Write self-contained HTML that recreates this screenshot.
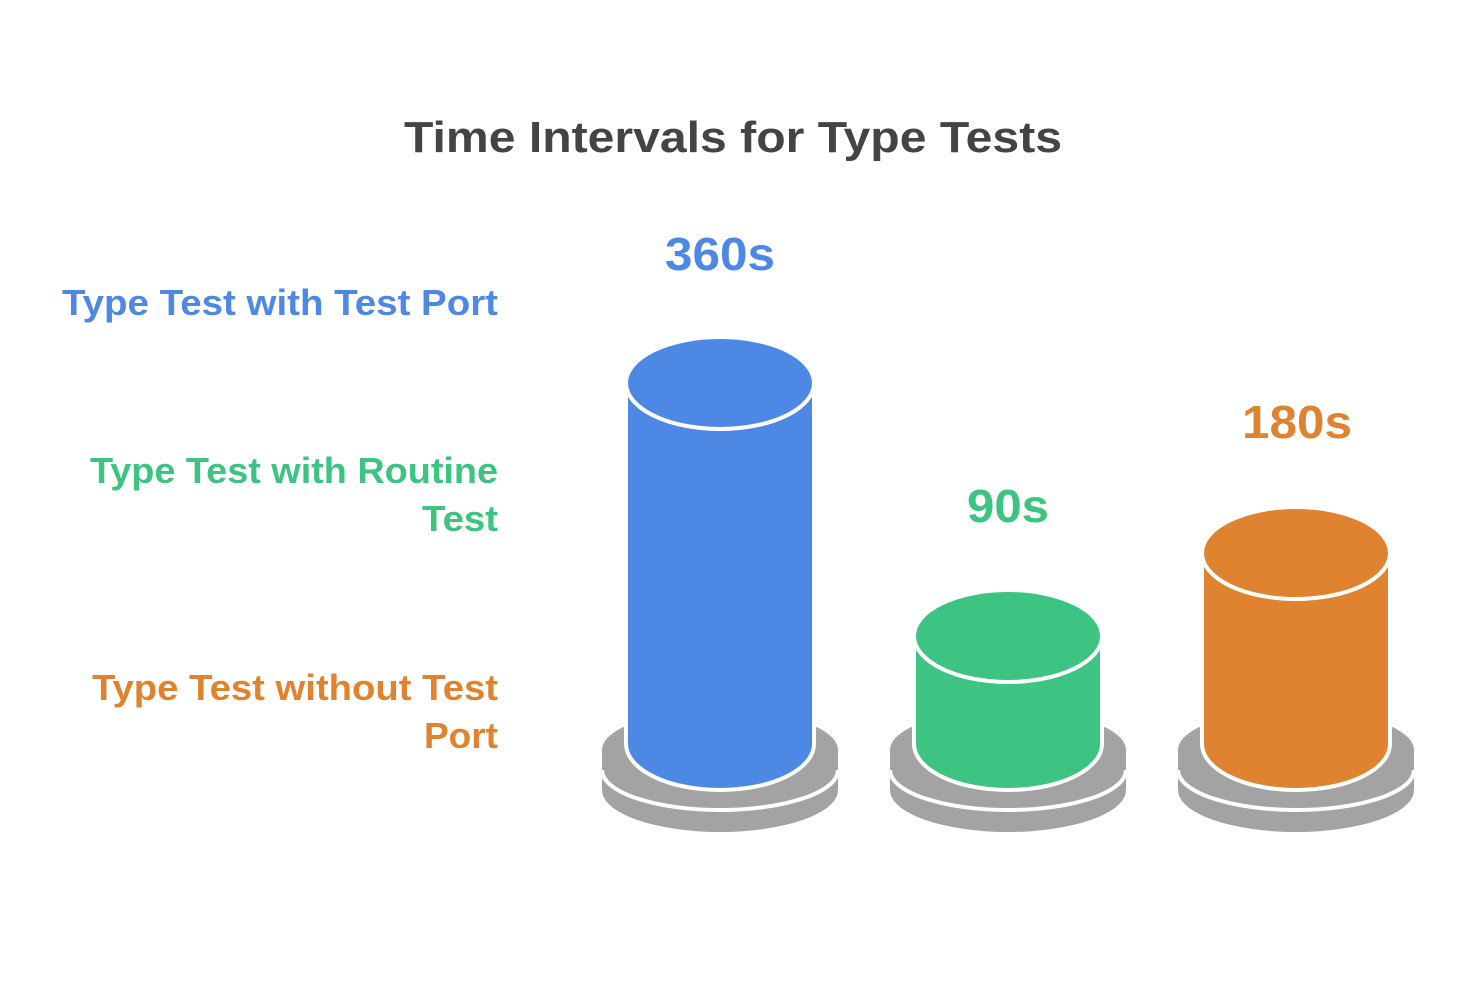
<!DOCTYPE html>
<html><head><style>html,body{margin:0;padding:0;background:#fff;}</style></head>
<body>
<svg width="1464" height="984" xmlns="http://www.w3.org/2000/svg" font-family="Liberation Sans, sans-serif" font-weight="bold">
<rect width="1464" height="984" fill="#fff"/>
<text x="404" y="152" font-size="44" fill="#444" textLength="658" lengthAdjust="spacingAndGlyphs">Time Intervals for Type Tests</text>
<g font-size="36" text-anchor="end">
<text x="498" y="315" fill="#4d88e4" textLength="436" lengthAdjust="spacingAndGlyphs">Type Test with Test Port</text>
<text x="498" y="483" fill="#3ec482" textLength="408" lengthAdjust="spacingAndGlyphs">Type Test with Routine</text>
<text x="498" y="531" fill="#3ec482" textLength="76" lengthAdjust="spacingAndGlyphs">Test</text>
<text x="498" y="700" fill="#df8331" textLength="406" lengthAdjust="spacingAndGlyphs">Type Test without Test</text>
<text x="498" y="748" fill="#df8331" textLength="74" lengthAdjust="spacingAndGlyphs">Port</text>
</g>
<g font-size="46" text-anchor="middle">
<text x="720" y="270" fill="#4d88e4" textLength="110" lengthAdjust="spacingAndGlyphs">360s</text>
<text x="1008" y="522" fill="#3ec482" textLength="82" lengthAdjust="spacingAndGlyphs">90s</text>
<text x="1297" y="438" fill="#df8331" textLength="110" lengthAdjust="spacingAndGlyphs">180s</text>
</g>
<defs>
<g id="base">
<path d="M-118 790 L-118 750 A118 40 0 0 1 118 750 L118 790 A118 42 0 0 1 -118 790 Z" fill="#a3a3a3"/>
<path d="M-118 770 A118 40 0 0 0 118 770" fill="none" stroke="#fff" stroke-width="4"/>
</g>
</defs>
<g transform="translate(720,0)"><use href="#base"/>
<path d="M-94 383 L-94 744 A94 46 0 0 0 94 744 L94 383 Z" fill="#4d88e4" stroke="#fff" stroke-width="4"/>
<ellipse cx="0" cy="383" rx="94" ry="46" fill="#4d88e4" stroke="#fff" stroke-width="4"/>
</g>
<g transform="translate(1008,0)"><use href="#base"/>
<path d="M-94 636 L-94 744 A94 46 0 0 0 94 744 L94 636 Z" fill="#3ec482" stroke="#fff" stroke-width="4"/>
<ellipse cx="0" cy="636" rx="94" ry="46" fill="#3ec482" stroke="#fff" stroke-width="4"/>
</g>
<g transform="translate(1296,0)"><use href="#base"/>
<path d="M-94 553 L-94 744 A94 46 0 0 0 94 744 L94 553 Z" fill="#df8331" stroke="#fff" stroke-width="4"/>
<ellipse cx="0" cy="553" rx="94" ry="46" fill="#df8331" stroke="#fff" stroke-width="4"/>
</g>
</svg>
</body></html>
